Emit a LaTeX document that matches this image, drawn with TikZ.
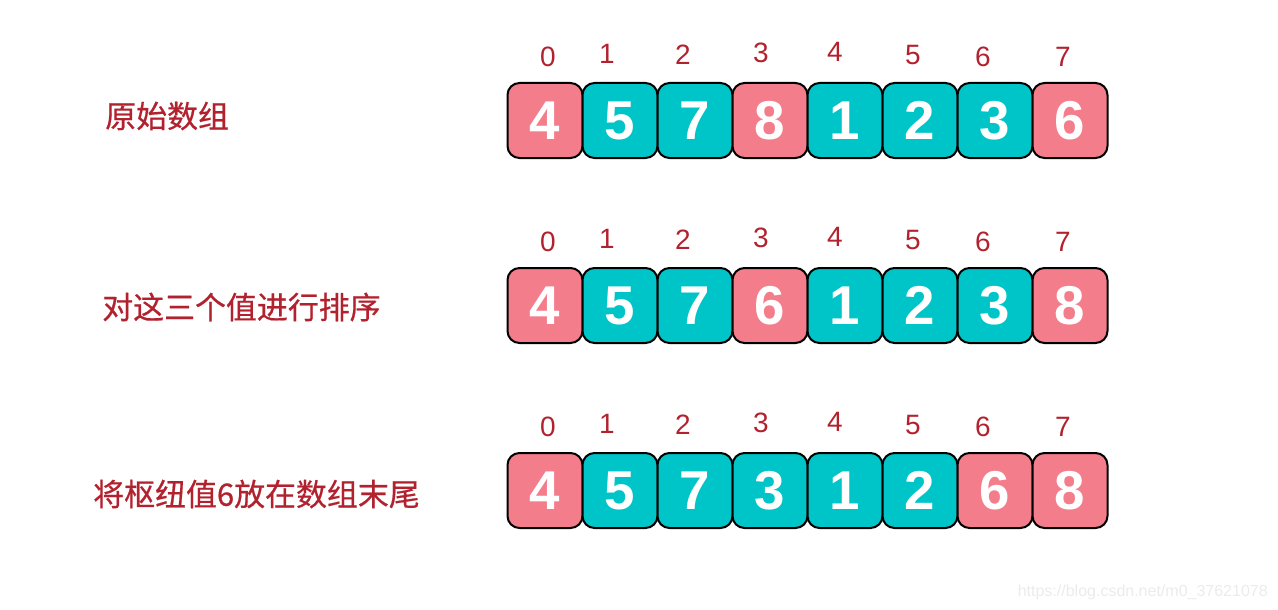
\documentclass[tikz,border=0pt]{standalone}
\usepackage{fontspec}
\setmainfont{Liberation Sans}
\newfontfamily\cjk[FakeBold=0.6]{Noto Sans CJK SC}
\usetikzlibrary{calc}
\definecolor{pinkcell}{RGB}{244,125,139}
\definecolor{tealcell}{RGB}{0,197,200}
\definecolor{labelred}{RGB}{178,34,46}
\tikzset{
  cell/.style={draw=black, line width=1.5pt, rounded corners=9pt,
    minimum width=56.25pt, minimum height=56.25pt, inner sep=0pt,
    text=white, font=\fontsize{41}{41}\selectfont\bfseries},
  idx/.style={text=labelred, inner sep=0pt, font=\fontsize{21}{21}\selectfont},
  title/.style={text=labelred, inner sep=0pt, anchor=west,
    font=\fontsize{23.2}{23.2}\selectfont\cjk}
}
\newcommand{\ROW}[3]{
  \foreach \c/\v [count=\i from 0] in {#3}
    \node[cell, fill=\c] (#1-\i) at ({545+75*\i}, {#2+37.5}) {\v};
  \foreach \i/\dx/\dy in {0/3/-25, 1/-13/-28, 2/-12/-27, 3/-9/-29,
                          4/-10/-30, 5/-7/-27, 6/-12/-25, 7/-7/-25}
    \node[idx] (#1-i\i) at ($(#1-\i.north)+(\dx,\dy)$) {\i};
}

\begin{document}
\begin{tikzpicture}[x=0.75pt, y=-0.75pt]
  \useasboundingbox (0,0) rectangle (1278,610);

  \node[title] (orig) at (105,116) {原始数组};
  \ROW{a}{83}{pinkcell/4, tealcell/5, tealcell/7, pinkcell/8,
              tealcell/1, tealcell/2, tealcell/3, pinkcell/6}

  \node[title] (sort) at (102,307) {对这三个值进行排序};
  \ROW{b}{268}{pinkcell/4, tealcell/5, tealcell/7, pinkcell/6,
               tealcell/1, tealcell/2, tealcell/3, pinkcell/8}

  \node[title] (swap) at (93,494) {将枢纽值6放在数组末尾};
  \ROW{c}{453}{pinkcell/4, tealcell/5, tealcell/7, tealcell/3,
               tealcell/1, tealcell/2, pinkcell/6, pinkcell/8}

  \node[anchor=east, inner sep=0pt, text=black!8,
        font=\fontsize{12}{12}\selectfont] (mark) at (1268,592)
        {https://blog.csdn.net/m0\_37621078};
\end{tikzpicture}
\end{document}
